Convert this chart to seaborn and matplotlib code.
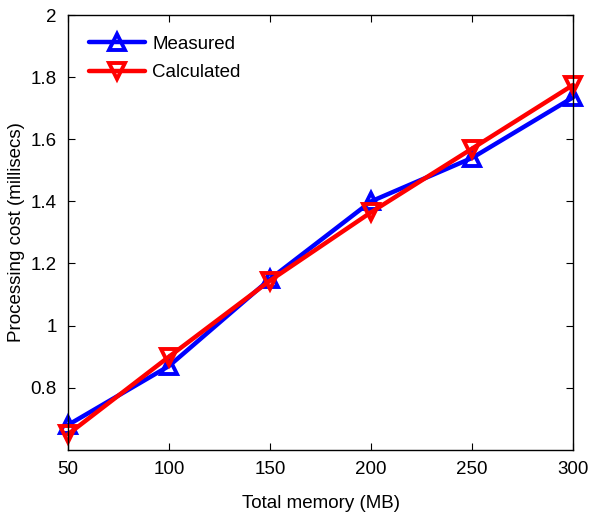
import seaborn as sns
import matplotlib.pyplot as plt
import pandas as pd

memory_mb = [50, 100, 150, 200, 250, 300]
measured = [0.68, 0.87, 1.15, 1.40, 1.54, 1.735]
calculated = [0.65, 0.90, 1.145, 1.365, 1.57, 1.775]

df = pd.DataFrame({
    "memory": memory_mb * 2,
    "cost": measured + calculated,
    "series": ["Measured"] * len(memory_mb) + ["Calculated"] * len(memory_mb),
})

sns.set_style("ticks", {"axes.labelcolor": "black", "xtick.color": "black",
                        "ytick.color": "black", "text.color": "black"})
plt.rcParams["font.family"] = ["Liberation Sans", "DejaVu Sans"]

fig = plt.figure(figsize=(5.89, 5.2), dpi=100)
ax = fig.add_axes([0.1155, 0.135, 0.8575, 0.836])

palette = {"Measured": "#0000ff", "Calculated": "#ff0000"}
markers = {"Measured": "^", "Calculated": "v"}
sns.lineplot(data=df, x="memory", y="cost", hue="series", style="series",
             palette=palette, markers=markers, dashes=False, ax=ax,
             linewidth=3.2, markersize=12, markerfacecolor="none",
             markeredgewidth=2.8)
for line in ax.lines:
    line.set_markerfacecolor("none")
    line.set_markeredgecolor(line.get_color())
    line.set_clip_on(False)

ax.set_xlim(50, 300)
ax.set_ylim(0.6, 2.0)
ax.set_xticks([50, 100, 150, 200, 250, 300])
ax.set_yticks([0.8, 1.0, 1.2, 1.4, 1.6, 1.8, 2.0])
ax.set_yticklabels(["0.8", "1", "1.2", "1.4", "1.6", "1.8", "2"])
ax.tick_params(direction="in", length=5, labelsize=13.5, top=True, right=True,
               pad=8, colors="black")
for s in ax.spines.values():
    s.set_linewidth(1.0)
    s.set_color("black")
ax.set_xlabel("Total memory (MB)", fontsize=13.5, labelpad=12, color="black")
ax.set_ylabel("Processing cost (millisecs)", fontsize=13.5, labelpad=4, color="black")

leg = ax.legend(loc="upper left", frameon=False, fontsize=13.5,
                handlelength=3.0, borderaxespad=0.7, labelspacing=0.6, handletextpad=0.4)
for h in leg.legend_handles:
    h.set_markerfacecolor("none")
for t in leg.get_texts():
    t.set_color("black")

fig.savefig("out.png", dpi=100)
